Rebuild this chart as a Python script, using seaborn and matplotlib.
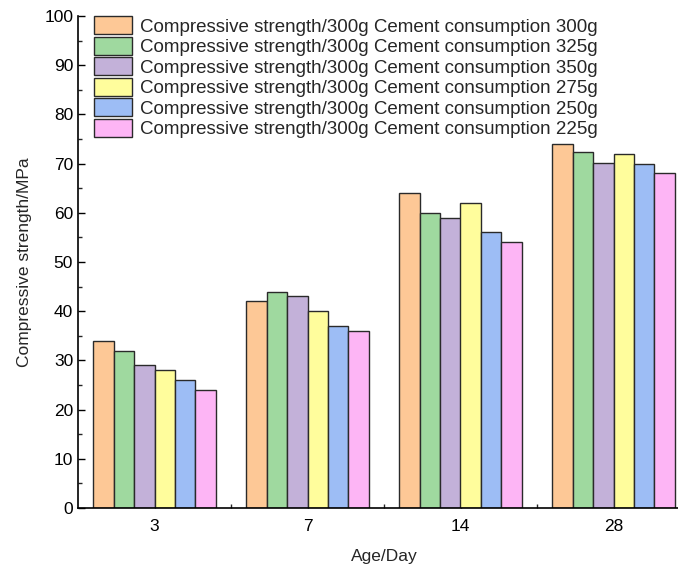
import matplotlib
matplotlib.use("Agg")
import matplotlib.pyplot as plt
import seaborn as sns
import pandas as pd
from matplotlib.ticker import MultipleLocator, FixedLocator

ages = ["3", "7", "14", "28"]
series_names = [
    "Compressive strength/300g Cement consumption 300g",
    "Compressive strength/300g Cement consumption 325g",
    "Compressive strength/300g Cement consumption 350g",
    "Compressive strength/300g Cement consumption 275g",
    "Compressive strength/300g Cement consumption 250g",
    "Compressive strength/300g Cement consumption 225g",
]
s300 = [34, 42, 64, 74]
s325 = [32, 44, 60, 72.4]
s350 = [29, 43, 59, 70.2]
s275 = [28, 40, 62, 72]
s250 = [26, 37, 56, 70]
s225 = [24, 36, 54, 68]
colors = ["#FDC896", "#9FD99F", "#C3B1D9", "#FFFD9C", "#9DBDF5", "#FDB5F5"]

values = [s300, s325, s350, s275, s250, s225]
rows = []
for name, vals in zip(series_names, values):
    for a, v in zip(ages, vals):
        rows.append({"Age": a, "Series": name, "Strength": v})
df = pd.DataFrame(rows)

sns.set_style("ticks")
plt.rcParams["font.family"] = ["Liberation Sans", "DejaVu Sans"]

fig = plt.figure(figsize=(6.78, 5.69), dpi=100)
ax = fig.add_axes([78/678, 61/569, (690-78)/678, (508-16)/569])

sns.barplot(data=df, x="Age", y="Strength", hue="Series", order=ages,
            hue_order=series_names, palette=colors, saturation=1,
            edgecolor="#2a2a2a", linewidth=1.0, width=0.8, ax=ax, errorbar=None)

ax.set_xlim(-0.5, 3.5)
ax.set_ylim(0, 100)
ax.yaxis.set_major_locator(MultipleLocator(10))
ax.yaxis.set_minor_locator(MultipleLocator(5))
ax.xaxis.set_minor_locator(FixedLocator([0.5, 1.5, 2.5]))
ax.tick_params(axis="both", which="major", direction="in", length=5, width=1, labelsize=12.5, colors="black")
ax.tick_params(axis="both", which="minor", direction="in", length=3, width=1)
ax.tick_params(axis="x", pad=8)
for s in ["top", "right"]:
    ax.spines[s].set_visible(False)
for s in ["left", "bottom"]:
    ax.spines[s].set_linewidth(1.2)
    ax.spines[s].set_color("black")

ax.set_xlabel("Age/Day", fontsize=12.5, labelpad=11)
ax.set_ylabel("Compressive strength/MPa", fontsize=12.5, labelpad=9)

leg = ax.legend(loc="upper left", bbox_to_anchor=(0.008, 1.022), frameon=False,
                fontsize=13.5, handlelength=2.0, handleheight=1.1,
                labelspacing=0.06, handletextpad=0.45, borderaxespad=0.2)

fig.savefig("out.png", dpi=100)
